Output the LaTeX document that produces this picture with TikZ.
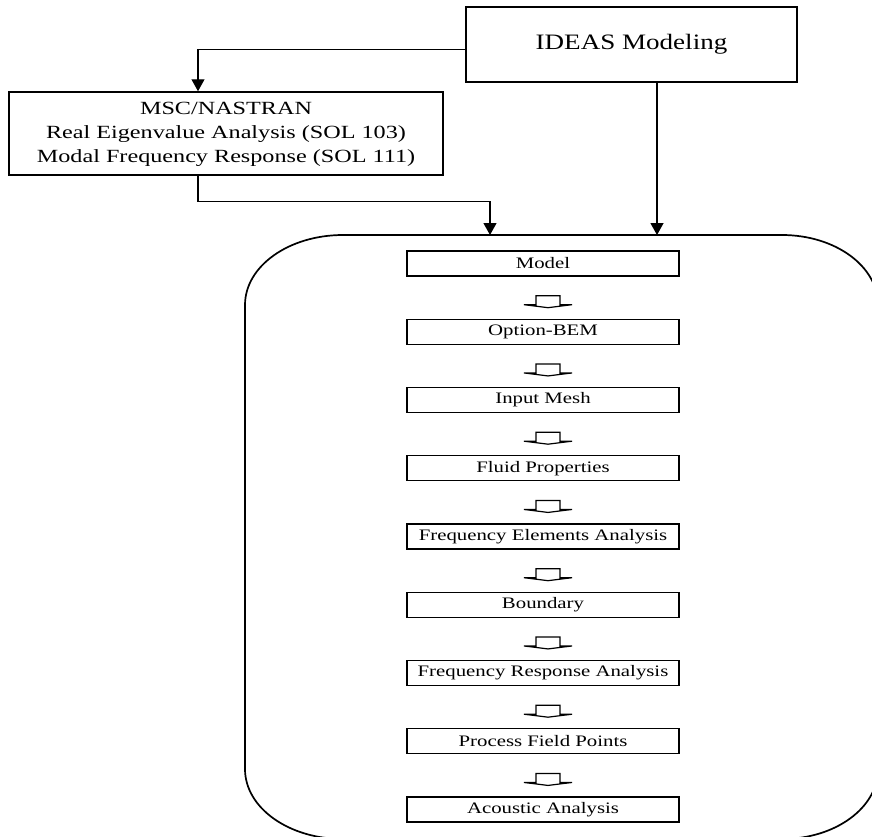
\documentclass[tikz,border=0pt]{standalone}
\usepackage{fontspec}
\usepackage{graphicx}
\setmainfont{Liberation Serif}
\usetikzlibrary{arrows.meta,calc}
\newcommand\wide[2]{\scalebox{#1}[1]{#2}}
\tikzset{
  bigbox/.style={draw, line width=0.75pt, inner sep=0pt, align=center},
  stepbox/.style={draw, line width=0.7pt, inner sep=0pt, minimum width=136pt, minimum height=12.5pt,
     font=\fontsize{8}{9}\selectfont},
  conn/.style={line width=0.6pt, -{Triangle[length=6pt, width=6.5pt]}},
  blockarrow/.style={line width=0.6pt, line join=miter},
  frame/.style={line width=0.85pt}
}
\begin{document}
\begin{tikzpicture}[x=0.5pt, y=-0.5pt]
\useasboundingbox (0,0) rectangle (872,836);
\clip (0,0) rectangle (872,836);

% top boxes
\node[bigbox, minimum width=165.5pt, minimum height=37.5pt] (ideas) at (631.5,44.5)
  {\wide{1.23}{\fontsize{11}{13}\selectfont IDEAS Modeling}};
\node[bigbox, minimum width=217pt, minimum height=41.5pt] (msc) at (226,133.5)
  {\wide{1.3}{\fontsize{9.3}{12}\selectfont\setlength\tabcolsep{0pt}%
   \begin{tabular}{c}MSC/NASTRAN\\Real Eigenvalue Analysis (SOL 103)\\Modal Frequency Response (SOL 111)\end{tabular}}};

% container frame (extends past the right and bottom edges)
\draw[frame] (343,235) -- (782,235)
  .. controls (835,235) and (878,266) .. (878,305)
  -- (878,769)
  .. controls (878,808) and (835,839) .. (782,839)
  -- (343,839)
  .. controls (289,839) and (245,808) .. (245,769)
  -- (245,305)
  .. controls (245,266) and (289,235) .. (343,235) -- cycle;
\coordinate (t1) at (490,235);
\coordinate (t2) at (657,235);

% connectors
\draw[conn] ($(ideas.west)+(0,5)$) -| ($(msc.north)+(-28,0)$);
\draw[conn] ($(msc.south)+(-28,0)$) -- ++(0,26) -| (t1);
\draw[conn] (ideas.south -| t2) -- (t2);

% inner steps
\foreach \i/\t in {1/Model, 2/Option-BEM, 3/Input Mesh, 4/Fluid Properties,
  5/Frequency Elements Analysis, 6/Boundary, 7/Frequency Response Analysis,
  8/Process Field Points, 9/Acoustic Analysis}{
  \node[stepbox] (b\i) at (543,{263.5+68.25*(\i-1)}) {\wide{1.3}{\t}};
}

% hollow block arrows between steps
\foreach \a/\b in {1/2,2/3,3/4,4/5,5/6,6/7,7/8,8/9}{
  \coordinate (m\a) at ($(b\a.south)+(5,0)$);
  \draw[blockarrow] ([shift={(-12,19)}]m\a) -- ([shift={(12,19)}]m\a)
     -- ([shift={(12,28)}]m\a) -- ([shift={(24,28)}]m\a)
     -- ($(m\a)!0.74!(m\a |- b\b.north)$)
     -- ([shift={(-24,28)}]m\a) -- ([shift={(-12,28)}]m\a) -- cycle;
}
\end{tikzpicture}
\end{document}
